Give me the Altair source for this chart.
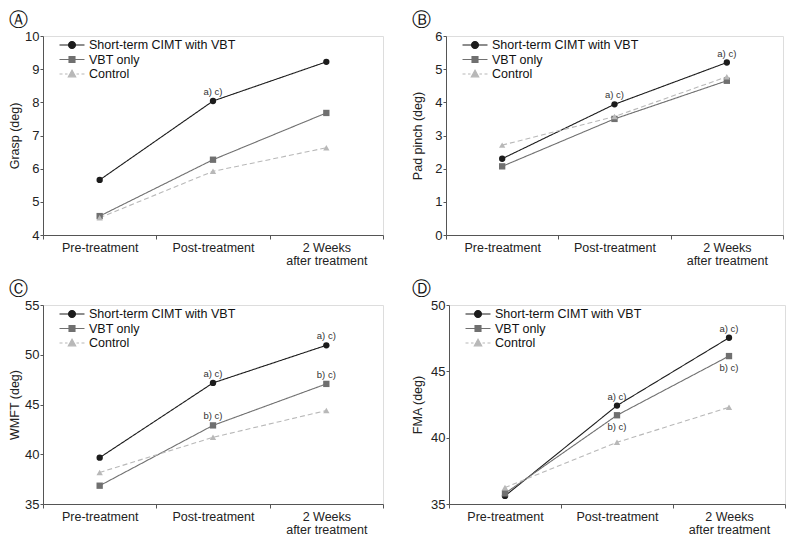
import altair as alt
import pandas as pd

phases = ["Pre-treatment", "Post-treatment", "2 Weeks|after treatment"]
series = ["Short-term CIMT with VBT", "VBT only", "Control"]
colors = ["#1c1c1c", "#707070", "#b8b8b8"]
marker_shapes = ["circle", "square", "triangle-up"]
line_dashes = [[1, 0], [1, 0], [5, 3]]

grasp_cimt = [5.66, 8.04, 9.22]
grasp_vbt = [4.57, 6.27, 7.68]
grasp_ctrl = [4.52, 5.92, 6.63]

pinch_cimt = [2.30, 3.94, 5.20]
pinch_vbt = [2.07, 3.50, 4.65]
pinch_ctrl = [2.71, 3.57, 4.77]

wmft_cimt = [39.66, 47.17, 50.95]
wmft_vbt = [36.84, 42.90, 47.07]
wmft_ctrl = [38.17, 41.70, 44.39]

fma_cimt = [35.61, 42.42, 47.53]
fma_vbt = [35.80, 41.69, 46.15]
fma_ctrl = [36.24, 39.65, 42.29]

ann_A = [("Post-treatment", "Short-term CIMT with VBT", "a) c)", "above")]
ann_B = [("Post-treatment", "Short-term CIMT with VBT", "a) c)", "above"),
         ("2 Weeks|after treatment", "Short-term CIMT with VBT", "a) c)", "above")]
ann_C = [("Post-treatment", "Short-term CIMT with VBT", "a) c)", "above"),
         ("2 Weeks|after treatment", "Short-term CIMT with VBT", "a) c)", "above"),
         ("Post-treatment", "VBT only", "b) c)", "above"),
         ("2 Weeks|after treatment", "VBT only", "b) c)", "above")]
ann_D = [("Post-treatment", "Short-term CIMT with VBT", "a) c)", "above"),
         ("2 Weeks|after treatment", "Short-term CIMT with VBT", "a) c)", "above"),
         ("Post-treatment", "VBT only", "b) c)", "below"),
         ("2 Weeks|after treatment", "VBT only", "b) c)", "below")]

# legend symbols: line segment with marker in the middle (1 unit = sqrt(size)/2 px)
legend_paths = [
    "M-2,0H2M-0.56,0A0.56,0.56,0,1,0,0.56,0A0.56,0.56,0,1,0,-0.56,0Z",
    "M-2,0H2M-0.48,-0.48H0.48V0.48H-0.48Z",
    "M-2,0H-1.52M-1.12,0H-0.72M0.72,0H1.12M1.52,0H2M0,-0.62L0.6,0.46H-0.6Z",
]

FONT = "Liberation Sans"


def panel(letter, ytitle, vals, domain, ticks, ann, width, height, title_pad):
    rows = []
    for s, v in zip(series, vals):
        for p, yv in zip(phases, v):
            rows.append({"phase": p, "series": s, "value": yv})
    df = pd.DataFrame(rows)
    adf = pd.DataFrame(ann, columns=["phase", "series", "label", "pos"]).merge(
        df, on=["phase", "series"])

    x = alt.X("phase:N", sort=phases,
              scale=alt.Scale(type="band", domain=phases, paddingInner=0, paddingOuter=0),
              axis=alt.Axis(title=None, tickBand="extent", labelAngle=0,
                            labelExpr="split(datum.label, '|')",
                            labelFontSize=12.5, labelLineHeight=13, labelPadding=2,
                            tickSize=4, labelColor="#222", domainColor="#555",
                            tickColor="#555", labelFont=FONT))
    y = alt.Y("value:Q",
              scale=alt.Scale(domain=domain, nice=False, zero=False),
              axis=alt.Axis(title=ytitle, values=ticks, grid=False, tickSize=3,
                            labelFontSize=13, labelPadding=1, labelColor="#222",
                            domainColor="#555", tickColor="#555",
                            titleFontSize=12.5, titleFontWeight="normal",
                            titleColor="#222", titlePadding=title_pad,
                            labelFont=FONT, titleFont=FONT))

    base = alt.Chart(df)
    layers = []
    for s, c, dash in zip(series, colors, line_dashes):
        layers.append(base.transform_filter(alt.datum.series == s)
                      .mark_line(strokeWidth=1.1, color=c, strokeDash=dash)
                      .encode(x=x, y=y))
    for s, c, shp in zip(series, colors, marker_shapes):
        layers.append(base.transform_filter(alt.datum.series == s)
                      .mark_point(filled=True, opacity=1, size=40, shape=shp, color=c)
                      .encode(x=x, y=y))

    leg = alt.Legend(title=None, orient="none", legendX=22, legendY=2,
                     labelFontSize=12.5, labelFont=FONT, labelColor="#111",
                     symbolSize=156, symbolStrokeWidth=1.1, symbolOpacity=1,
                     symbolFillColor="#000000", symbolStrokeColor="#000000",
                     labelOffset=10, rowPadding=0.5, padding=0)
    # draws nothing itself (filtered out); only carries the legend scales
    legend_driver = base.transform_filter("false").mark_point(
        filled=True, strokeWidth=1.1).encode(
        x=x, y=y,
        fill=alt.Fill("series:N", scale=alt.Scale(domain=series, range=colors), legend=leg),
        stroke=alt.Stroke("series:N", scale=alt.Scale(domain=series, range=colors), legend=leg),
        shape=alt.Shape("series:N", scale=alt.Scale(domain=series, range=legend_paths), legend=leg))
    layers.append(legend_driver)

    tbase = alt.Chart(adf).encode(x=x, y=y, text="label:N")
    layers.append(tbase.transform_filter("datum.pos == 'above'").mark_text(
        fontSize=9.5, font=FONT, color="#333", dy=-9))
    layers.append(tbase.transform_filter("datum.pos == 'below'").mark_text(
        fontSize=9.5, font=FONT, color="#333", dy=12))

    return alt.layer(*layers).properties(
        width=width, height=height,
        title=alt.TitleParams(letter, anchor="start", frame="bounds", fontSize=19,
                              font="DejaVu Sans", fontWeight="normal", color="#111",
                              offset=0, dx=0))


def independent(ch):
    return ch.resolve_scale(fill="independent", stroke="independent",
                            shape="independent").resolve_legend(
        fill="independent", stroke="independent", shape="independent")


pA = panel("Ⓐ", "Grasp (deg)", [grasp_cimt, grasp_vbt, grasp_ctrl], [4, 10],
           list(range(4, 11)), ann_A, 340, 199, 3)
pB = panel("Ⓑ", "Pad pinch (deg)", [pinch_cimt, pinch_vbt, pinch_ctrl], [0, 6],
           list(range(0, 7)), ann_B, 337, 199, 10)
pC = panel("Ⓒ", "WMFT (deg)", [wmft_cimt, wmft_vbt, wmft_ctrl], [35, 55],
           [35, 40, 45, 50, 55], ann_C, 340, 199, 3)
pD = panel("Ⓓ", "FMA (deg)", [fma_cimt, fma_vbt, fma_ctrl], [35, 50],
           [35, 40, 45, 50], ann_D, 336, 199, 6)

row1 = independent(alt.hconcat(pA, pB, spacing=27))
row2 = independent(alt.hconcat(pC, pD, spacing=27))

chart = independent(alt.vconcat(row1, row2, spacing=12)).properties(
    padding={"left": 0, "top": 2, "right": 0, "bottom": 0}).configure_view(
    stroke=None).configure(font=FONT)

chart.save("out.html", embed_options={"renderer": "svg", "actions": False})
